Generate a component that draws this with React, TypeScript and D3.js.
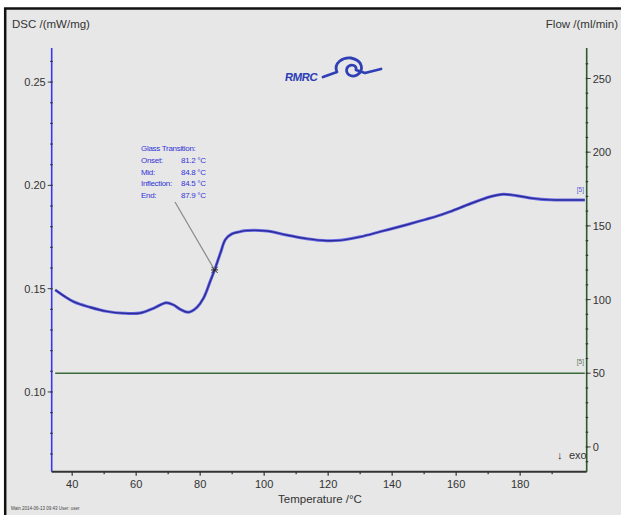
import React from "react";
import * as d3 from "d3";

// DSC heat-flow trace (mW/mg) against temperature (°C)
const dscTemps = [
  34.7, 40.4, 45.6, 50.8, 56, 61.3, 65.4, 69.4, 71.7, 73.8, 76.3, 79, 81, 83.1,
  84.7, 86.3, 87.9, 89.9, 92.5, 94.6, 100.8, 107, 113.3, 119.6, 123.8, 130,
  136.3, 142.5, 148.8, 154, 158.1, 164.4, 170.6, 174.8, 179, 184.2, 189.4,
  195, 200.2,
];
const dscValues = [
  0.1494, 0.1437, 0.141, 0.139, 0.1381, 0.1382, 0.1405, 0.1432, 0.1421, 0.14,
  0.1386, 0.141, 0.1453, 0.1534, 0.1599, 0.1671, 0.1738, 0.1765, 0.1776,
  0.1781, 0.1779, 0.176, 0.1742, 0.1732, 0.1734, 0.1751, 0.1776, 0.1801,
  0.1828, 0.1851, 0.1873, 0.1911, 0.1945, 0.1957, 0.195, 0.1937, 0.193, 0.1929,
  0.1929,
];

// Purge gas flow (ml/min)
const flowTemps = [34.7, 200.2];
const flowValues = [50, 50];

// Axis ticks
const tempTicks = [40, 60, 80, 100, 120, 140, 160, 180];
const tempMinorTicks = [50, 70, 90, 110, 130, 150, 170, 190];
const dscTicks = [0.1, 0.15, 0.2, 0.25];
const flowTicks = [0, 50, 100, 150, 200, 250];

// Glass transition evaluation
const gtLabels = ["Onset:", "Mid:", "Inflection:", "End:"];
const gtValues = ["81.2 °C", "84.8 °C", "84.5 °C", "87.9 °C"];
const inflectionTemp = 84.5;

const W = 621;
const H = 515;
const FONT = "'Liberation Sans', Arial, sans-serif";

export default function App() {
  const left = 51.7;
  const right = 586.7;
  const top = 48;
  const bottom = 471.7;

  const x = d3.scaleLinear().domain([33.6, 200.8]).range([left, right]);
  const yL = d3.scaleLinear().domain([0.0614, 0.2665]).range([bottom, top]);
  const yR = d3.scaleLinear().domain([-16.8, 270.7]).range([bottom, top]);

  const dscPts: [number, number][] = dscTemps.map((t, i) => [t, dscValues[i]]);
  const flowPts: [number, number][] = flowTemps.map((t, i) => [t, flowValues[i]]);

  const dscLine = d3
    .line<[number, number]>()
    .x((d) => x(d[0]))
    .y((d) => yL(d[1]))
    .curve(d3.curveCatmullRom.alpha(0.5));
  const flowLine = d3
    .line<[number, number]>()
    .x((d) => x(d[0]))
    .y((d) => yR(d[1]));

  const dscMinor = d3.range(0.07, 0.2665, 0.01);
  const flowMinor = d3.range(-10, 270, 10);

  const infValue = d3.scaleLinear().domain(dscTemps).range(dscValues)(inflectionTemp);
  const mx = x(inflectionTemp);
  const my = yL(infValue);

  const lastDsc = dscPts[dscPts.length - 1];
  const lastFlow = flowPts[flowPts.length - 1];

  return (
    <div style={{ position: "fixed", left: 0, top: 0 }}>
      <svg width={W} height={H} style={{ display: "block" }} fontFamily={FONT}>
        <rect x={0} y={0} width={W} height={H} fill="#ffffff" />
        <rect x={5} y={8} width={W - 5} height={H - 8} fill="#e7e7e7" />
        <line x1={4} y1={8.5} x2={W} y2={8.5} stroke="#111" strokeWidth={2.5} />
        <line x1={5.2} y1={8} x2={5.2} y2={H} stroke="#111" strokeWidth={2.5} />

        {/* axis titles */}
        <text x={12} y={28} fontSize={11.5} fill="#333">DSC /(mW/mg)</text>
        <text x={618} y={28} fontSize={11.5} fill="#333" textAnchor="end">Flow /(ml/min)</text>
        <text x={320} y={503} fontSize={11.5} fill="#333" textAnchor="middle">Temperature /°C</text>
        <text x={11} y={510} fontSize={4.5} fill="#444">Main   2014-06-13 09:43    User: user</text>

        {/* logo */}
        <g>
          <text x={285} y={81} fontSize={11.5} fontWeight="bold" fill="#2f3fb5" letterSpacing={-0.6} transform="skewX(-8) translate(11,0)">RMRC</text>
          <path d="M323,77 L337,72 C333,63 343,57 351,58 C362,60 365,70 357,75 C351,78 345,74 347,68 C350,63 357,65 356,70 L365,73 L381,69"
            fill="none" stroke="#2f3fb5" strokeWidth={2.8} strokeLinecap="round" strokeLinejoin="round" />
        </g>

        {/* left axis (DSC) */}
        <line x1={left} y1={top} x2={left} y2={bottom} stroke="#3838f0" strokeWidth={1.6} />
        {dscMinor.map((v, i) => (
          <line key={"lm" + i} x1={left - 1.5} x2={left + 1} y1={yL(v)} y2={yL(v)} stroke="#333" strokeWidth={1.2} />
        ))}
        {dscTicks.map((v) => (
          <g key={"lt" + v}>
            <line x1={left - 4} x2={left} y1={yL(v)} y2={yL(v)} stroke="#444" strokeWidth={1} />
            <text x={left - 6} y={yL(v) + 4} fontSize={11} fill="#333" textAnchor="end">{v.toFixed(2)}</text>
          </g>
        ))}

        {/* right axis (flow) */}
        <line x1={right} y1={top} x2={right} y2={bottom} stroke="#2f5a2f" strokeWidth={1.6} />
        {flowMinor.map((v, i) => (
          <line key={"rm" + i} x1={right - 1} x2={right + 1.5} y1={yR(v)} y2={yR(v)} stroke="#333" strokeWidth={1.2} />
        ))}
        {flowTicks.map((v) => (
          <g key={"rt" + v}>
            <line x1={right} x2={right + 4} y1={yR(v)} y2={yR(v)} stroke="#444" strokeWidth={1} />
            <text x={right + 6} y={yR(v) + 4} fontSize={11} fill="#333">{v}</text>
          </g>
        ))}

        {/* bottom axis */}
        <line x1={left} y1={bottom} x2={right} y2={bottom} stroke="#333" strokeWidth={2} />
        {tempMinorTicks.map((t) => (
          <line key={"bm" + t} x1={x(t)} x2={x(t)} y1={bottom} y2={bottom + 2.5} stroke="#333" strokeWidth={1.2} />
        ))}
        {tempTicks.map((t) => (
          <g key={"bt" + t}>
            <line x1={x(t)} x2={x(t)} y1={bottom} y2={bottom + 4} stroke="#333" strokeWidth={1.2} />
            <text x={x(t)} y={bottom + 16} fontSize={11} fill="#333" textAnchor="middle">{t}</text>
          </g>
        ))}

        {/* exo direction */}
        <text x={557} y={459} fontSize={11} fill="#333">↓</text>
        <text x={569} y={459} fontSize={11} fill="#333">exo</text>

        {/* flow line */}
        <path d={flowLine(flowPts) || ""} fill="none" stroke="#3b6a3b" strokeWidth={1.6} />
        <text x={x(lastFlow[0]) - 8} y={yR(lastFlow[1]) - 9} fontSize={6.5} fill="#557a55">[5]</text>

        {/* DSC curve */}
        <path d={dscLine(dscPts) || ""} fill="none" stroke="#6a6ae6" strokeWidth={3} strokeLinejoin="round" />
        <path d={dscLine(dscPts) || ""} fill="none" stroke="#2c2c98" strokeWidth={1.4} strokeLinejoin="round" />
        <text x={x(lastDsc[0]) - 8} y={yL(lastDsc[1]) - 8} fontSize={6.5} fill="#5a5ad8">[5]</text>

        {/* glass transition annotation */}
        <line x1={175} y1={202} x2={mx} y2={my} stroke="#8a8a8a" strokeWidth={1.2} />
        <g stroke="#222" strokeWidth={1}>
          <line x1={mx - 3} x2={mx + 3} y1={my - 3} y2={my + 3} />
          <line x1={mx - 3} x2={mx + 3} y1={my + 3} y2={my - 3} />
          <line x1={mx - 3.5} x2={mx + 3.5} y1={my} y2={my} />
        </g>
        <g fontSize={8} fill="#3434d8" letterSpacing={-0.3}>
          <text x={141} y={151}>Glass Transition:</text>
          {gtLabels.map((l, i) => (
            <g key={l}>
              <text x={141} y={163 + i * 11.5}>{l}</text>
              <text x={181} y={163 + i * 11.5}>{gtValues[i]}</text>
            </g>
          ))}
        </g>
      </svg>
    </div>
  );
}
